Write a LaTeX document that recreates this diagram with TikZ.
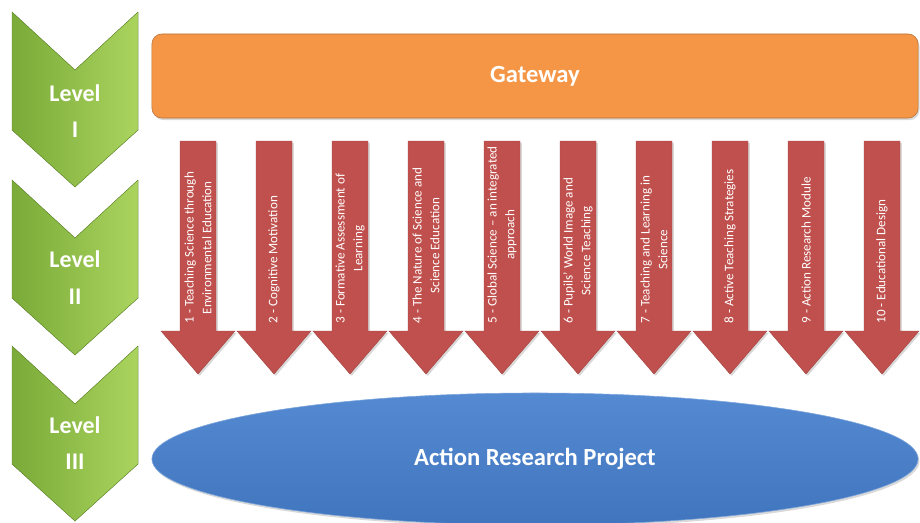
\documentclass[tikz,border=0pt]{standalone}
\usepackage{fontspec}
\setmainfont{Carlito}
\usetikzlibrary{shapes.geometric,shadows}
\definecolor{chevdark}{RGB}{122,170,56}
\definecolor{chevlight}{RGB}{170,212,94}
\definecolor{modred}{RGB}{192,80,77}
\definecolor{gateorange}{RGB}{245,150,70}
\definecolor{arpblue}{RGB}{70,128,206}
\begin{document}
\begin{tikzpicture}[x=0.025cm, y=-0.025cm,
    chevron/.style={left color=chevdark, right color=chevlight, draw=chevdark!85!black, line width=0.3pt},
    lvltext/.style={text=white, font=\fontsize{17}{20}\selectfont\bfseries},
    modarrow/.style={fill=modred, draw=modred!85!black, line width=0.3pt,
      drop shadow={shadow xshift=1.3pt, shadow yshift=-1.3pt, opacity=0.3}},
    modtext/.style={rotate=90, anchor=west, align=center, text=white, inner sep=1pt,
      font=\fontsize{9.3}{12.6}\selectfont}]
  \useasboundingbox (0,0) rectangle (920,522); % page size
  % Levels
  \filldraw[chevron] (12,12) -- (75,70) -- (138,12) -- (138,130) -- (75,187) -- (12,130) -- cycle;
  \filldraw[chevron] (12,180) -- (75,238) -- (138,180) -- (138,298) -- (75,355) -- (12,298) -- cycle;
  \filldraw[chevron] (12,346) -- (75,404) -- (138,346) -- (138,464) -- (75,521) -- (12,464) -- cycle;
  \node[lvltext] (lvlI) at (75,93) {Level};
  \node[lvltext] (numI) at (75,130) {I};
  \node[lvltext] (lvlII) at (75,259) {Level};
  \node[lvltext] (numII) at (75,297) {II};
  \node[lvltext] (lvlIII) at (75,425) {Level};
  \node[lvltext] (numIII) at (75,462) {III};
  % Gateway
  \node[draw=gateorange!75!black, fill=gateorange, rounded corners=0.25cm, line width=0.4pt,
    minimum width=19.15cm, minimum height=2.1cm, text=white,
    font=\fontsize{17.5}{20}\selectfont\bfseries,
    drop shadow={shadow xshift=1pt, shadow yshift=-1.5pt, opacity=0.3}] (gate) at (535,76) {Gateway};
  % Modules
  \filldraw[modarrow] (180,141) -- ++(36,0) -- ++(0,190) -- ++(19,0) -- ++(-37,43) -- ++(-37,-43) -- ++(19,0) -- cycle;
  \filldraw[modarrow] (256,141) -- ++(36,0) -- ++(0,190) -- ++(19,0) -- ++(-37,43) -- ++(-37,-43) -- ++(19,0) -- cycle;
  \filldraw[modarrow] (332,141) -- ++(36,0) -- ++(0,190) -- ++(19,0) -- ++(-37,43) -- ++(-37,-43) -- ++(19,0) -- cycle;
  \filldraw[modarrow] (408,141) -- ++(36,0) -- ++(0,190) -- ++(19,0) -- ++(-37,43) -- ++(-37,-43) -- ++(19,0) -- cycle;
  \filldraw[modarrow] (484,141) -- ++(36,0) -- ++(0,190) -- ++(19,0) -- ++(-37,43) -- ++(-37,-43) -- ++(19,0) -- cycle;
  \filldraw[modarrow] (560,141) -- ++(36,0) -- ++(0,190) -- ++(19,0) -- ++(-37,43) -- ++(-37,-43) -- ++(19,0) -- cycle;
  \filldraw[modarrow] (636,141) -- ++(36,0) -- ++(0,190) -- ++(19,0) -- ++(-37,43) -- ++(-37,-43) -- ++(19,0) -- cycle;
  \filldraw[modarrow] (712,141) -- ++(36,0) -- ++(0,190) -- ++(19,0) -- ++(-37,43) -- ++(-37,-43) -- ++(19,0) -- cycle;
  \filldraw[modarrow] (788,141) -- ++(36,0) -- ++(0,190) -- ++(19,0) -- ++(-37,43) -- ++(-37,-43) -- ++(19,0) -- cycle;
  \filldraw[modarrow] (864,141) -- ++(36,0) -- ++(0,190) -- ++(19,0) -- ++(-37,43) -- ++(-37,-43) -- ++(19,0) -- cycle;
  \node[modtext] (mod1) at (198,325) {1 - Teaching Science through\\Environmental Education};
  \node[modtext] (mod2) at (274,325) {2 - Cognitive Motivation};
  \node[modtext] (mod3) at (350,325) {3 - Formative Assessment of\\Learning};
  \node[modtext] (mod4) at (426,325) {4 - The Nature of Science and\\Science Education};
  \node[modtext] (mod5) at (502,325) {5 - Global Science – an integrated\\approach};
  \node[modtext] (mod6) at (578,325) {6 - Pupils’ World Image and\\Science Teaching};
  \node[modtext] (mod7) at (654,325) {7 - Teaching and Learning in\\Science};
  \node[modtext] (mod8) at (730,325) {8 - Active Teaching Strategies};
  \node[modtext] (mod9) at (806,325) {9 - Action Research Module};
  \node[modtext] (mod10) at (882,325) {10 - Educational Design};
  % Project
  \node[ellipse, top color=arpblue!92!white, bottom color=arpblue!92!black, draw=arpblue!70!white,
    line width=0.4pt, minimum width=19.15cm, minimum height=3.3cm, text=white,
    font=\fontsize{17.5}{20}\selectfont\bfseries,
    drop shadow={shadow xshift=1pt, shadow yshift=-1.5pt, opacity=0.3}] (arp) at (535,459) {Action Research Project};
\end{tikzpicture}
\end{document}
